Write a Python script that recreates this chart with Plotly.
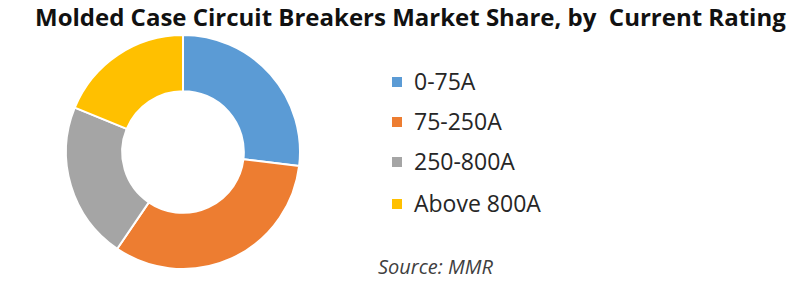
import plotly.graph_objects as go

categories = ["0-75A", "75-250A", "250-800A", "Above 800A"]
shares = [26.9, 32.6, 21.7, 18.8]
colors = ["#5B9BD5", "#ED7D31", "#A5A5A5", "#FFC000"]
title_text = "Molded Case Circuit Breakers Market Share, by\u00a0 Current Rating"
source_text = "Source: MMR"

W, H = 803, 308
cx, cy, r = 183, 152, 117

fig = go.Figure()
fig.add_trace(go.Pie(
    labels=categories, values=shares, hole=0.52, sort=False,
    direction="clockwise", rotation=0,
    marker=dict(colors=colors, line=dict(color="white", width=2)),
    textinfo="none", hoverinfo="label+percent", showlegend=False,
    domain=dict(x=[(cx - r) / W, (cx + r) / W],
                y=[(H - cy - r) / H, (H - cy + r) / H]),
))

annotations = [
    dict(text=f"<b>{title_text}</b>", x=410 / W, y=1 - 16 / H, xref="paper", yref="paper",
         xanchor="center", yanchor="middle", showarrow=False,
         font=dict(family="Open Sans, sans-serif", size=24, color="#111111")),
    dict(text=f"<i>{source_text}</i>", x=376 / W, y=1 - 266 / H, xref="paper", yref="paper",
         xanchor="left", yanchor="middle", showarrow=False,
         font=dict(family="Open Sans", size=20, color="#404040")),
]
shapes = []
row_y = [81, 121, 161, 203]
for cat, col, yy in zip(categories, colors, row_y):
    shapes.append(dict(type="rect", xref="paper", yref="paper",
                       x0=392 / W, x1=402 / W, y0=1 - (yy + 6) / H, y1=1 - (yy - 4) / H,
                       fillcolor=col, line=dict(width=0)))
    annotations.append(dict(text=cat, x=412 / W, y=1 - yy / H, xref="paper", yref="paper",
                            xanchor="left", yanchor="middle", showarrow=False,
                            font=dict(family="Open Sans", size=23, color="#262626")))

fig.update_layout(width=W, height=H, margin=dict(l=0, r=0, t=0, b=0),
                  paper_bgcolor="white", plot_bgcolor="white",
                  annotations=annotations, shapes=shapes)
fig.write_html("out.html")
